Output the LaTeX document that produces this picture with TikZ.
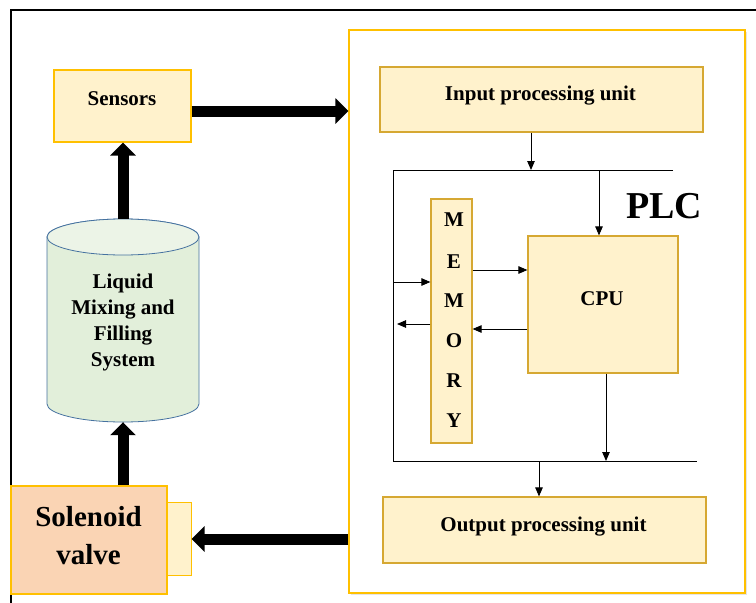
\documentclass[tikz,border=0pt]{standalone}
\usepackage{fontspec}
\setmainfont{Liberation Serif}
\usetikzlibrary{arrows.meta,shadows}
\definecolor{boxfill}{RGB}{255,242,204}
\definecolor{gold}{RGB}{255,192,0}
\definecolor{darkgold}{RGB}{214,168,50}
\definecolor{peach}{RGB}{250,212,180}
\definecolor{cylfill}{RGB}{226,239,218}
\definecolor{cyltop}{RGB}{236,244,231}
\definecolor{cylline}{RGB}{70,114,160}
\begin{document}
\begin{tikzpicture}[x=1pt,y=-1pt,
  ybox/.style={draw=gold, line width=1.2pt, fill=boxfill, inner sep=0pt},
  dbox/.style={draw=darkgold, line width=1.2pt, fill=boxfill, inner sep=0pt},
  lbl/.style={font=\fontsize{21}{25}\selectfont\bfseries, inner sep=0pt},
  bigarrow/.style={line width=11pt, -{Triangle[width=25pt,length=13pt]}},
  sarrow/.style={line width=0.9pt, -{Triangle[width=7.5pt,length=9pt]}},
  bus/.style={line width=0.9pt}]
\useasboundingbox (0,0) rectangle (756,603);
% outer frame
\draw[line width=2pt] (11,603) -- (11,10) -- (756,10);
% PLC container
\node[draw=gold, line width=1.3pt, fill=white, minimum width=396pt, minimum height=563pt, inner sep=0pt,
  drop shadow={shadow xshift=2pt, shadow yshift=-2pt, fill=black!20}] (plc) at (547,311.5) {};
% sensors
\node[ybox, minimum width=137pt, minimum height=72pt] (sens) at (122.5,106) {};
\node[lbl, anchor=base] (senst) at (122,105) {Sensors};
% input / output units
\node[dbox, minimum width=323pt, minimum height=65pt] (inp) at (541.5,99.5) {};
\node[lbl, anchor=base] (inpt) at (540.5,100) {Input processing unit};
\node[dbox, minimum width=323pt, minimum height=66pt] (out) at (544.5,530) {};
\node[lbl, anchor=base] (outt) at (543.5,531) {Output processing unit};
% CPU
\node[dbox, minimum width=150pt, minimum height=137pt] (cpu) at (603,304.5) {};
\node[lbl, anchor=base] (cput) at (602,305) {CPU};
% memory
\node[dbox, minimum width=41pt, minimum height=244pt] (mem) at (451.5,321) {};
\foreach \l/\y [count=\i] in {M/220,E/261.5,M/300.5,O/340.5,R/381,Y/421}
  \node[lbl] (m\i) at (454,\y) {\l};
% PLC label
\node[font=\fontsize{38}{40}\selectfont\bfseries, inner sep=0pt] (plct) at (664,206) {PLC};
% bus
\coordinate (tl) at (393,170);
\coordinate (tr) at (673,170);
\coordinate (bl) at (393,461);
\coordinate (br) at (697,461);
\draw[bus] (tr) -- (tl) -- (bl) -- (br);
% thin arrows
\coordinate (a1) at (531,170);
\draw[sarrow] (inp.south -| a1) -- (a1);
\coordinate (a2) at (599,170);
\draw[sarrow] (a2) -- (cpu.north -| a2);
\coordinate (a3) at (393,282);
\draw[sarrow] (a3) -- (mem.west |- a3);
\coordinate (a4) at (0,270);
\draw[sarrow] (mem.east |- a4) -- (cpu.west |- a4);
\coordinate (a5) at (0,329);
\draw[sarrow] (cpu.west |- a5) -- (mem.east |- a5);
\coordinate (a6) at (397,324);
\draw[sarrow] (mem.west |- a6) -- (a6);
\coordinate (a7) at (606,461);
\draw[sarrow] (cpu.south -| a7) -- (a7);
\coordinate (a8) at (539,461);
\draw[sarrow] (a8) -- (out.north -| a8);
% solenoid valve
\node[draw=gold, line width=1pt, fill=boxfill, minimum width=24pt, minimum height=73pt, inner sep=0pt] (sols) at (179,538.5) {};
\node[draw=gold, line width=2pt, fill=peach, minimum width=156pt, minimum height=108pt, inner sep=0pt] (sol) at (89,540) {};
\node[font=\fontsize{29}{38}\selectfont\bfseries, align=center, inner sep=0pt] (solt) at (88.5,536) {Solenoid\\valve};
% cylinder
\node[minimum width=152pt, minimum height=203pt, inner sep=0pt] (cyl) at (123,320.5) {};
\filldraw[fill=cylfill, draw=cylline, line width=0.8pt] (47,237) -- (47,404)
  arc[start angle=180, end angle=360, x radius=76pt, y radius=18pt] -- (199,237)
  arc[start angle=0, end angle=180, x radius=76pt, y radius=18pt] -- cycle;
\filldraw[fill=cyltop, draw=cylline, line width=0.8pt] (123,237) ellipse [x radius=76pt, y radius=18pt];
\node[font=\fontsize{21}{26}\selectfont\bfseries, align=center, inner sep=0pt] (cylt) at (123,322) {Liquid\\Mixing and\\Filling\\System};
% thick arrows
\coordinate (b1) at (0,111);
\draw[bigarrow] (sens.east |- b1) -- (plc.west |- b1);
\draw[bigarrow] (cyl.north) -- (sens.south -| cyl.north);
\draw[bigarrow] (sol.north -| cyl.south) -- (cyl.south);
\coordinate (b2) at (0,539);
\draw[bigarrow] (plc.west |- b2) -- (sols.east |- b2);
\end{tikzpicture}
\end{document}
